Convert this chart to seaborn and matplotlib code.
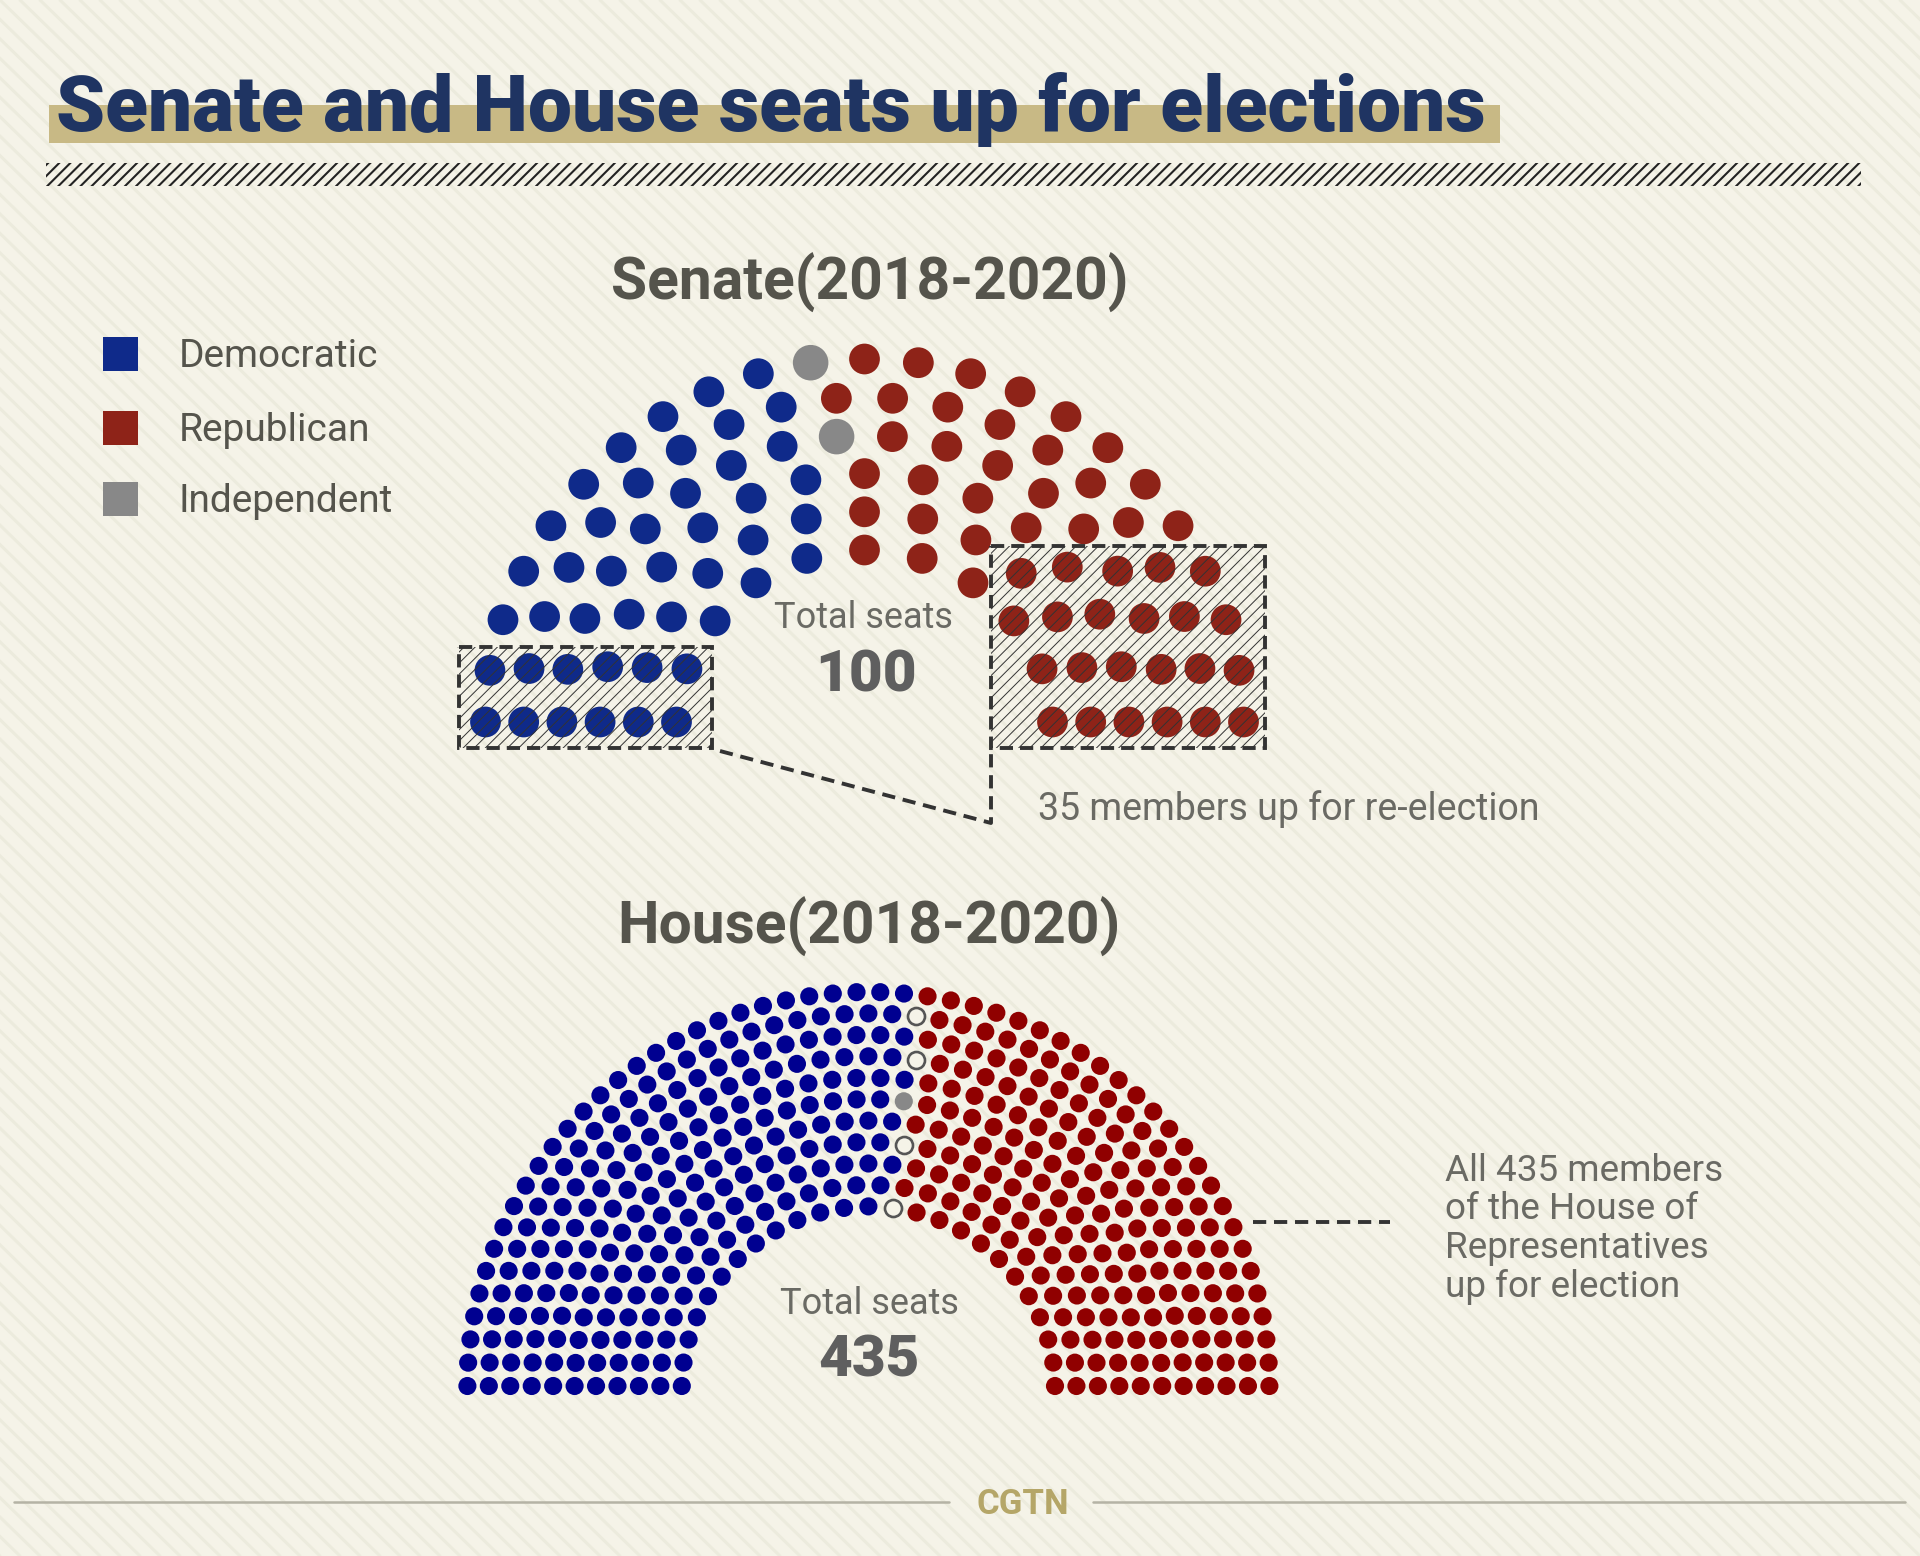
import numpy as np
import pandas as pd
import matplotlib
matplotlib.use("Agg")
import matplotlib.pyplot as plt
from matplotlib.patches import Rectangle
import seaborn as sns

# seats per ring, inner ring first, left to right
senate_dem = [5, 6, 7, 8, 9, 10]
senate_ind = [0, 0, 0, 1, 0, 1]
senate_rep = [6, 7, 8, 9, 11, 12]

house_dem = [13, 15, 17, 18, 20, 21, 23, 24, 26, 27, 29]
house_ind = [0, 0, 0, 0, 0, 1, 0, 0, 0, 0, 0]
house_vacant = [1, 0, 0, 1, 0, 0, 0, 1, 0, 1, 0]
house_rep = [11, 13, 14, 15, 17, 18, 19, 20, 22, 23, 25]

legend_labels = ["Democratic", "Republican", "Independent"]
annotation_lines = ["All 435 members", "of the House of", "Representatives", "up for election"]

BG = "#f5f3e8"
TEXT = "#6a6a64"
DARK = "#55544c"
FONT = "Roboto"


def seat_frame(dem, ind, vacant, rep, cx, cy, r_in, r_step, squash, pinch):
    # one row per seat, placed evenly along its ring
    rows = []
    for i, (d, n, v, r) in enumerate(zip(dem, ind, vacant, rep)):
        parties = ["Democratic"] * d + ["Independent"] * n + ["Vacant"] * v + ["Republican"] * r
        radius = r_in + i * r_step
        angles = np.linspace(np.pi, 0, len(parties))
        for a, p in zip(angles, parties):
            rx = radius * (1 - pinch * np.sin(2 * a) ** 2)
            rows.append((cx + rx * np.cos(a), cy - (radius - squash) * np.sin(a), p))
    return pd.DataFrame(rows, columns=["x", "y", "party"])


sns.set_theme(style="white")
plt.rcParams["font.family"] = [FONT, "DejaVu Sans"]

fig = plt.figure(figsize=(19.2, 15.56), dpi=100, facecolor=BG)
ax = fig.add_axes([0, 0, 1, 1])
ax.set_xlim(0, 1920)
ax.set_ylim(1556, 0)
ax.axis("off")

# diagonal paper stripes
for off in np.arange(-1600, 1920, 20):
    ax.plot([off, off + 1600], [0, 1556], color="#ecebdd", lw=2.2, zorder=0)

# title
ax.add_patch(Rectangle((49, 105), 1451, 38, color="#c8b985", lw=0, zorder=1))
ax.text(56, 109, "Senate and House seats up for elections", fontsize=56.5, fontweight="black",
        color="#1f3462", va="center", ha="left", zorder=2)
bar = Rectangle((46, 163), 1815, 23, facecolor="none", edgecolor="#222222", hatch="///", lw=0, zorder=1)
bar.set_hatch_linewidth(1.5)
ax.add_patch(bar)

# subtitles
ax.text(870, 283, "Senate(2018-2020)", fontsize=42.3, fontweight="bold", color=DARK, ha="center", va="center")
ax.text(869, 927, "House(2018-2020)", fontsize=42.3, fontweight="bold", color=DARK, ha="center", va="center")

# legend
legend_colors = ["#0f2a8a", "#8e2318", "#888888"]
for label, c, y in zip(legend_labels, legend_colors, [356, 430, 501]):
    ax.add_patch(Rectangle((103, y - 19), 35, 34, color=c, lw=0))
    ax.text(179, y, label, fontsize=28, color=DARK, va="center", ha="left")

# seats
senate = seat_frame(senate_dem, senate_ind, [0] * 6, senate_rep, 864.5, 722, 188, 38.2, 16, 0.02)
sns.scatterplot(data=senate, x="x", y="y", hue="party", size="party", linewidth=0, legend=False, ax=ax, zorder=3,
                sizes={"Democratic": 490, "Republican": 490, "Independent": 655},
                palette={"Democratic": "#0f2a8a", "Republican": "#8e2318", "Independent": "#888888"})

house = seat_frame(house_dem, house_ind, house_vacant, house_rep, 868.4, 1386, 186.6, 21.44, 7, 0.01)
filled = house[house["party"] != "Vacant"]
sns.scatterplot(data=filled, x="x", y="y", hue="party", s=170, linewidth=0, legend=False, ax=ax, zorder=3,
                palette={"Democratic": "#000090", "Republican": "#900000", "Independent": "#888888"})
sns.scatterplot(data=house[house["party"] == "Vacant"], x="x", y="y", s=150, color=BG, edgecolor="#555555",
                linewidth=1.9, legend=False, ax=ax, zorder=3)

# seats up for re-election
for (x0, y0, x1, y1) in [(459, 647, 712, 748), (991, 546, 1265, 748)]:
    box = Rectangle((x0, y0), x1 - x0, y1 - y0, facecolor="none", edgecolor="#333333", hatch="///", lw=0, zorder=4)
    box.set_hatch_linewidth(0.7)
    ax.add_patch(box)
    ax.add_patch(Rectangle((x0, y0), x1 - x0, y1 - y0, fill=False, edgecolor="#333333", lw=2.8,
                           ls=(0, (3.4, 1.8)), zorder=5))
ax.plot([720, 991, 991], [751, 823, 748], color="#333333", lw=2.8, ls=(0, (3.4, 2)), zorder=4)
ax.plot([1253, 1390], [1222, 1222], color="#333333", lw=2.8, ls=(0, (3.4, 2)), zorder=4)

# labels
ax.text(863, 618, "Total seats", fontsize=26, color=TEXT, ha="center", va="center")
ax.text(866, 676, "100", fontsize=42, fontweight="black", color="#5f5f5f", ha="center", va="center")
ax.text(869, 1304, "Total seats", fontsize=26, color=TEXT, ha="center", va="center")
ax.text(869, 1361, "435", fontsize=42, fontweight="black", color="#5f5f5f", ha="center", va="center")
ax.text(1038, 809, "35 members up for re-election", fontsize=27, color=TEXT, ha="left", va="center")
for line, y in zip(annotation_lines, [1171, 1209, 1248, 1287]):
    ax.text(1445, y, line, fontsize=26.6, color=TEXT, ha="left", va="center")

# footer
ax.plot([14, 949], [1502, 1502], color="#b5b3a5", lw=1.8)
ax.plot([1093, 1905], [1502, 1502], color="#b5b3a5", lw=1.8)
ax.text(1023, 1504, "CGTN", fontsize=25, fontweight="bold", color="#b5a668", ha="center", va="center")

fig.savefig("out.png", dpi=100, facecolor=BG)
